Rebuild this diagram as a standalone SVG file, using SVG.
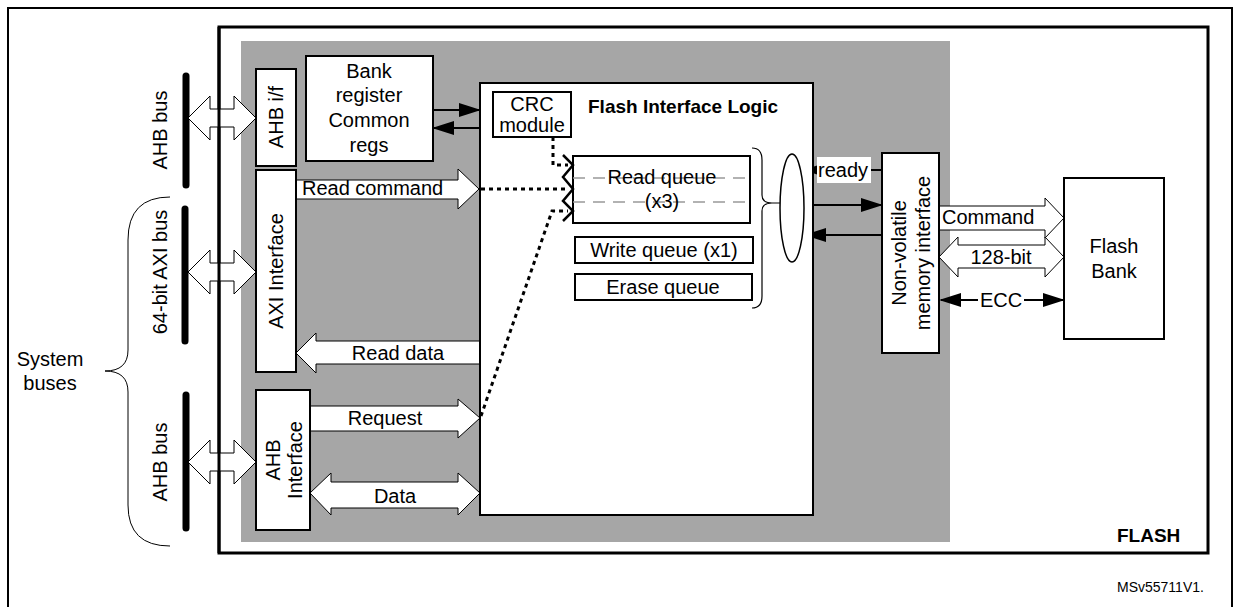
<svg xmlns="http://www.w3.org/2000/svg" width="1240" height="607" viewBox="0 0 1240 607">
<style>
text{font-family:"Liberation Sans",Arial,sans-serif;font-size:20px;fill:#000}
.b{fill:#fff;stroke:#000;stroke-width:2}
.ba{fill:#fff;stroke:#000;stroke-width:1}
.dot{fill:none;stroke:#000;stroke-width:3;stroke-dasharray:4 4}
.ln{stroke:#000;stroke-width:2;fill:none}
.bus{stroke:#000;stroke-width:7;stroke-linecap:round}
</style>
<defs>
<marker id="ah" markerWidth="11" markerHeight="8" refX="10" refY="4" orient="auto" markerUnits="strokeWidth"><path d="M0,0.5 L11,4 L0,7.5 Z" fill="#000"/></marker>
<marker id="ah2" markerWidth="11" markerHeight="8" refX="1" refY="4" orient="auto" markerUnits="strokeWidth"><path d="M11,0.5 L0,4 L11,7.5 Z" fill="#000"/></marker>
</defs>
<rect x="0" y="0" width="1240" height="607" fill="#fff"/>
<rect x="8" y="8" width="1224" height="640" fill="none" stroke="#000" stroke-width="2"/>
<rect id="flash" x="219" y="27" width="989" height="526" fill="#fff" stroke="#000" stroke-width="3"/>
<rect x="241" y="41" width="709" height="501" fill="#a6a6a6"/>
<text x="1117" y="542" font-weight="bold" style="font-size:19px">FLASH</text>
<text x="1117" y="592" style="font-size:14px">MSv55711V1.</text>

<g id="busbars">
<line class="bus" x1="186" y1="76" x2="186" y2="185"/>
<line class="bus" x1="185" y1="209" x2="185" y2="341"/>
<line class="bus" x1="186" y1="395" x2="186" y2="528"/>
<text transform="translate(167,130) rotate(-90)" text-anchor="middle">AHB bus</text>
<text transform="translate(167,272) rotate(-90)" text-anchor="middle">64-bit AXI bus</text>
<text transform="translate(167,462) rotate(-90)" text-anchor="middle">AHB bus</text>
<path class="ln" style="stroke-width:1" d="M170,197 Q128,197 128,240 L128,350 Q128,371 105,371 Q128,371 128,392 L128,505 Q128,546 170,546"/>
<text x="50" y="366" text-anchor="middle">System</text>
<text x="50" y="390" text-anchor="middle">buses</text>
</g>

<g id="connectors">
<path class="ba" d="M188,118 L210,96 L210,109 L234,109 L234,96 L256,118 L234,140 L234,127 L210,127 L210,140 Z"/>
<path class="ba" d="M188,272 L210,250 L210,263 L234,263 L234,250 L256,272 L234,294 L234,281 L210,281 L210,294 Z"/>
<path class="ba" d="M188,462 L210,440 L210,453 L234,453 L234,440 L256,462 L234,484 L234,471 L210,471 L210,484 Z"/>
<line x1="219" y1="27" x2="219" y2="553" stroke="#000" stroke-width="3"/>
<path class="ba" d="M296,180 L458,180 L458,169 L479,189 L458,209 L458,199 L296,199 Z"/>
<path class="ba" d="M480,341 L316,341 L316,333 L296,353 L316,373 L316,364 L480,364 Z"/>
<path class="ba" d="M310,406 L458,406 L458,399 L480,418 L458,438 L458,431 L310,431 Z"/>
<path class="ba" d="M310,493 L331,473 L331,482 L458,482 L458,473 L480,493 L458,515 L458,508 L331,508 L331,515 Z"/>
<path class="ba" d="M939,206 L1045,206 L1045,198 L1064,218 L1045,238 L1045,230 L939,230 Z"/>
<path class="ba" d="M939,257 L958,237 L958,245 L1045,245 L1045,237 L1064,257 L1045,277 L1045,268 L958,268 L958,277 Z"/>
<text x="302" y="195">Read command</text>
<text x="398" y="360" text-anchor="middle">Read data</text>
<text x="385" y="425" text-anchor="middle">Request</text>
<text x="395" y="503" text-anchor="middle">Data</text>
<text x="942" y="224">Command</text>
<text x="1001" y="264" text-anchor="middle">128-bit</text>
<line class="ln" x1="941" y1="300" x2="978" y2="300" marker-start="url(#ah2)"/>
<line class="ln" x1="1024" y1="300" x2="1063" y2="300" marker-end="url(#ah)"/>
<text x="1001" y="307" text-anchor="middle">ECC</text>
<line class="ln" x1="433" y1="110" x2="479" y2="110" marker-end="url(#ah)"/>
<line class="ln" x1="480" y1="128" x2="434" y2="128" marker-end="url(#ah)"/>
<line class="ln" x1="805" y1="205" x2="881" y2="205" marker-end="url(#ah)"/>
<line class="ln" x1="882" y1="235" x2="806" y2="235" marker-end="url(#ah)"/>
<line class="ln" x1="882" y1="170" x2="805" y2="170" marker-end="url(#ah)"/>
</g>

<g id="ahbif"><rect class="b" x="256" y="69" width="40" height="97"/><text transform="translate(283,117) rotate(-90)" text-anchor="middle">AHB i/f</text></g>
<g id="axiif"><rect class="b" x="256" y="170" width="40" height="202"/><text transform="translate(283,271) rotate(-90)" text-anchor="middle">AXI Interface</text></g>
<g id="ahbinterface"><rect class="b" x="256" y="390" width="54" height="140"/><text transform="translate(280,460) rotate(-90)" text-anchor="middle">AHB</text><text transform="translate(302,460) rotate(-90)" text-anchor="middle">Interface</text></g>
<g id="bankreg"><rect class="b" x="306" y="56" width="127" height="105"/>
<text x="369" y="78" text-anchor="middle">Bank</text><text x="369" y="102" text-anchor="middle">register</text><text x="369" y="127" text-anchor="middle">Common</text><text x="369" y="152" text-anchor="middle">regs</text></g>

<g id="fil"><rect class="b" x="480" y="83" width="333" height="432"/>
<text x="588" y="113" font-weight="bold" style="font-size:19px">Flash Interface Logic</text></g>
<g id="crc"><rect class="b" x="493" y="92" width="78" height="45"/><text x="532" y="111" text-anchor="middle">CRC</text><text x="532" y="132" text-anchor="middle">module</text></g>
<g id="readq"><rect class="b" x="573" y="156" width="177" height="67"/>
<line x1="573" y1="178" x2="750" y2="178" stroke="#999" stroke-width="1.5" stroke-dasharray="12 8"/>
<line x1="573" y1="202" x2="750" y2="202" stroke="#999" stroke-width="1.5" stroke-dasharray="12 8"/>
<text x="662" y="184" text-anchor="middle">Read queue</text><text x="662" y="208" text-anchor="middle">(x3)</text></g>
<g id="writeq"><rect class="b" x="575" y="237" width="178" height="26"/><text x="664" y="257" text-anchor="middle">Write queue (x1)</text></g>
<g id="eraseq"><rect class="b" x="575" y="274" width="177" height="26"/><text x="663" y="294" text-anchor="middle">Erase queue</text></g>
<g id="dotted">
<path class="dot" d="M553,137 L553,165 L568,165"/>
<path class="dot" d="M481,189 L568,189"/>
<path class="dot" d="M481,416 L552,211 L568,211"/>
<path class="ln" style="stroke-width:2.5" d="M563,155 L573,165 L563,177 L573,189 L563,201 L573,211 L563,221"/>
</g>
<path class="ln" style="stroke-width:1.2" d="M752,148 Q762,148 762,160 L762,195 Q762,203 772,203 Q762,203 762,211 L762,296 Q762,308 752,308"/>
<line x1="772" y1="203" x2="780" y2="203" stroke="#000" stroke-width="1"/>
<g id="mux"><ellipse cx="792" cy="208" rx="12" ry="54" fill="#fff" stroke="#000" stroke-width="1.5"/></g>
<g id="ready"><rect x="817" y="157" width="54" height="26" fill="#fff"/><text x="818" y="177">ready</text><line x1="871" y1="170" x2="882" y2="170" stroke="#000" stroke-width="2"/></g>
<g id="nvm"><rect class="b" x="882" y="153" width="57" height="200"/>
<text transform="translate(906,253) rotate(-90)" text-anchor="middle">Non-volatile</text>
<text transform="translate(930,253) rotate(-90)" text-anchor="middle">memory interface</text></g>
<g id="bank"><rect class="b" x="1064" y="178" width="100" height="161"/><text x="1114" y="253" text-anchor="middle">Flash</text><text x="1114" y="278" text-anchor="middle">Bank</text></g>
</svg>
